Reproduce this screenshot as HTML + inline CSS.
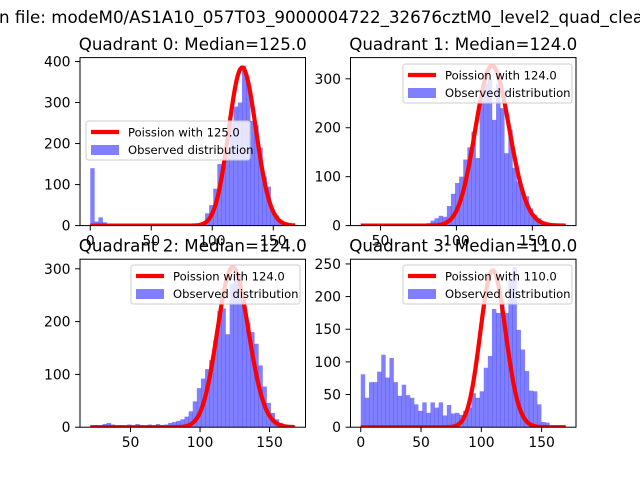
<!DOCTYPE html>
<html><head><meta charset="utf-8"><style>
html,body{margin:0;padding:0;background:#fff;}
svg{display:block;font-family:"DejaVu Sans","Liberation Sans",sans-serif;}
</style></head><body>
<svg id="fig" width="640" height="480" viewBox="0 0 640 480" xmlns="http://www.w3.org/2000/svg">
<text x="-1" y="23" font-size="16.7" fill="#000">n file: modeM0/AS1A10_057T03_9000004722_32676cztM0_level2_quad_clean.evt</text>
</svg>
<script>
// ---- data ----
const medians = [125.0, 124.0, 124.0, 110.0];
const binStart = [0, 37, 21, 0];
const binWidth = [3.36, 2.7, 2.95, 3.4];
const curvePeak = [385, 327, 303, 240];
const q0Counts = [140,10,20,8,2,1,2,1,1,2,1,1,1,2,1,1,1,1,2,1,1,2,1,3,2,2,5,8,30,50,90,150,145,180,250,290,300,390,350,255,245,190,120,95,40,25,12,8,4,2];
const q1Counts = [1,1,1,1,1,1,2,1,1,2,1,2,3,2,3,3,5,10,15,20,18,40,65,87,100,135,160,192,138,257,290,300,216,290,240,148,196,118,90,70,60,35,22,15,8,5,2,1,1,1];
const q2Counts = [2,4,3,6,8,5,3,4,2,5,3,6,4,2,5,3,6,4,5,8,10,12,15,20,30,49,74,92,110,127,164,220,225,176,272,297,290,248,198,180,158,117,77,46,27,15,8,5,3,2];
const q3Counts = [81,45,69,69,85,111,76,106,69,48,65,49,45,35,25,38,22,38,30,38,18,34,21,22,19,25,30,52,45,55,91,109,181,175,193,175,226,245,149,119,86,56,55,35,8,7,1,1,0,0];
const xTicks = [[0,50,100,150],[50,100,150],[50,100,150],[0,50,100,150]];
const yTicks = [[0,100,200,300,400],[0,100,200,300],[0,100,200,300],[0,50,100,150,200,250]];
// ---- layout ----
const NS = "http://www.w3.org/2000/svg";
const svg = document.getElementById('fig');
const allCounts = [q0Counts,q1Counts,q2Counts,q3Counts];
const axBoxes = [[80,57.6],[350.5,57.6],[80,259.2],[350.5,259.2]];
const AW = 225.5, AH = 168;
const legendPos = [[86,121,164],[403,64,169],[131,265,169],[403,265,169]];
function mk(tag, attrs, parent){const e=document.createElementNS(NS,tag);for(const k in attrs)e.setAttribute(k,attrs[k]);(parent||svg).appendChild(e);return e;}
function lgamma(z){return (z-0.5)*Math.log(z)-z+0.5*Math.log(2*Math.PI)+1/(12*z)-1/(360*z*z*z);}
function poissonPmf(k, lam){return Math.exp(k*Math.log(lam)-lam-lgamma(k+1));}
for(let q=0;q<4;q++){
  const counts = allCounts[q];
  const x0 = binStart[q], bw = binWidth[q];
  const x1 = x0 + bw*counts.length;
  const pad = (x1-x0)*0.05;
  const xmin = x0-pad, xmax = x1+pad;
  const lam = medians[q];
  const scale = curvePeak[q]/poissonPmf(Math.round(lam), lam);
  const kStart = Math.ceil(x0), kEnd = Math.floor(x1);
  const maxV = Math.max(...counts, curvePeak[q]);
  const ymax = maxV*1.05;
  const [L,T] = axBoxes[q];
  const sx = v => L + (v-xmin)/(xmax-xmin)*AW;
  const sy = v => T + AH - v/ymax*AH;
  const g = mk('g',{});
  
  
  const clipId='clip'+q;
  const cp = mk('clipPath',{id:clipId},g); mk('rect',{x:L,y:T,width:AW,height:AH},cp);
  const plot = mk('g',{'clip-path':'url(#'+clipId+')'},g);
  counts.forEach((c,i)=>{
    if(c<=0) return;
    const r = mk('rect',{x:sx(x0+i*bw),y:sy(c),width:sx(x0+(i+1)*bw)-sx(x0+i*bw)+0.3,height:sy(0)-sy(c),fill:'#0000ff','fill-opacity':0.5},plot);
    
    
  });
  let d='';
  for(let k=kStart;k<=kEnd;k++){ d += (k===kStart?'M':'L')+sx(k).toFixed(2)+','+sy(scale*poissonPmf(k,lam)).toFixed(2); }
  const p = mk('path',{d:d,fill:'none',stroke:'#ff0000','stroke-width':4.2,'stroke-linejoin':'round'},plot);
  
  
  const fr = mk('rect',{x:L,y:T,width:AW,height:AH,fill:'none',stroke:'#000','stroke-width':1},g);
  
  
  xTicks[q].forEach(t=>{
    const X=sx(t);
    mk('line',{x1:X,x2:X,y1:T+AH,y2:T+AH+4.9,stroke:'#000','stroke-width':1},g);
    const tx = mk('text',{x:X,y:T+AH+20,'font-size':13.9,'text-anchor':'middle'},g); tx.textContent=t;
    
    
  });
  yTicks[q].forEach(t=>{
    const Y=sy(t);
    mk('line',{x1:L-4.9,x2:L,y1:Y,y2:Y,stroke:'#000','stroke-width':1},g);
    const tx = mk('text',{x:L-9.5,y:Y+5,'font-size':13.9,'text-anchor':'end'},g); tx.textContent=t;
    
    
  });
  const ti = mk('text',{x:L+AW/2,y:T-7.5,'font-size':16.7,'text-anchor':'middle'},g);
  ti.textContent='Quadrant '+q+': Median='+lam.toFixed(1);
  
  
  const [lx,ly,lw]=legendPos[q];
  const lg = mk('g',{},g);
  
  
  mk('rect',{x:lx,y:ly,width:lw,height:39,rx:2.5,fill:'#fff','fill-opacity':0.8,stroke:'#ccc','stroke-width':1},lg);
  mk('line',{x1:lx+5,x2:lx+33,y1:ly+11,y2:ly+11,stroke:'#ff0000','stroke-width':4.2},lg);
  const t1=mk('text',{x:lx+42,y:ly+15.5,'font-size':11.6},lg); t1.textContent='Poission with '+lam.toFixed(1);
  
  
  mk('rect',{x:lx+5,y:ly+24,width:28,height:10,fill:'#0000ff','fill-opacity':0.5},lg);
  const t2=mk('text',{x:lx+42,y:ly+33,'font-size':11.6},lg); t2.textContent='Observed distribution';
  
  
}
</script>
</body></html>
